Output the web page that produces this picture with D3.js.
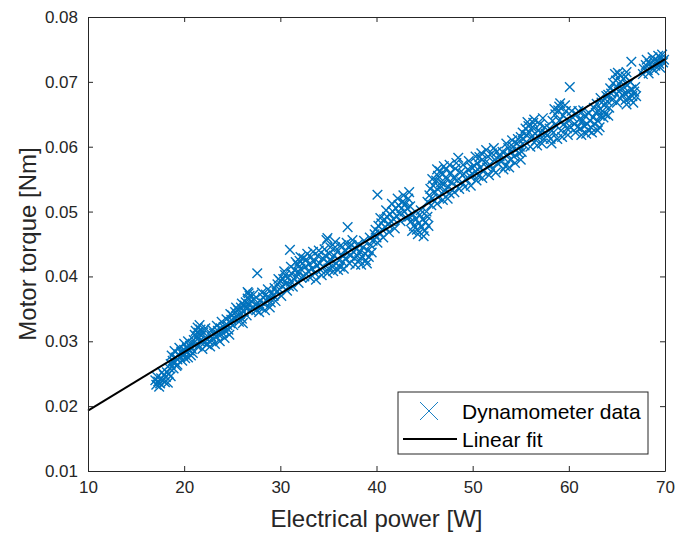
<!DOCTYPE html>
<html>
<head>
<meta charset="utf-8">
<script src="https://cdnjs.cloudflare.com/ajax/libs/d3/7.8.5/d3.min.js"></script>
<style>
  body { margin: 0; background: #fff; }
  svg { display: block; font-family: "Liberation Sans", Arial, sans-serif; }
  .tick-label { fill: #262626; font-size: 17px; }
  .axis-title { fill: #262626; font-size: 24px; }
  .legend-text { fill: #000; font-size: 21px; }
</style>
</head>
<body>
<div id="chart"></div>
<script>
// dynamometer samples
var power = [
  17.1, 17.3, 17.5, 17.6, 17.8, 17.9, 18.1, 18.2, 18.4, 18.5, 17.4, 18.0,
  18.6, 18.8, 19.0, 19.1, 19.3, 19.4, 19.6, 19.7, 19.9, 20.0, 20.2, 20.3, 20.5, 20.6, 20.8, 20.9, 19.2, 20.1, 20.7,
  21.0, 21.1, 21.2, 21.3, 21.4, 21.5, 21.6, 21.7, 21.8, 22.0, 22.1, 22.3, 21.4, 21.9,
  22.6, 22.8, 23.0, 23.1, 23.3, 23.5, 23.6, 23.8, 24.0, 24.1, 24.3, 24.5, 24.6, 24.8,
  24.9, 25.0, 25.2, 25.3, 25.5, 25.6, 25.8, 25.9, 26.0, 26.2, 26.3, 26.5,
  26.4, 26.6, 26.7, 26.8, 27.0, 27.1, 27.3, 27.4, 26.6, 27.6, 27.5,
  27.7, 27.9, 28.0, 28.2, 28.3, 28.5, 28.6, 28.8, 29.0, 29.1,
  29.3, 29.4, 29.6, 29.7, 29.9, 30.0, 30.2, 30.3, 30.5, 30.6, 30.8, 30.9, 31.0, 31.1, 31.2, 31.4, 31.5, 31.7, 31.8, 31.9, 32.0, 32.1, 32.2,
  32.3, 32.4, 32.6, 32.7, 32.9, 33.0, 33.2, 33.3, 33.5, 33.6, 33.8, 33.9, 34.1, 34.2, 34.4, 34.5, 34.7, 34.8, 34.9, 35.0, 35.1,
  34.9, 35.7, 37.0, 40.1,
  35.3, 35.4, 35.6, 35.8, 35.9, 36.1, 36.2, 36.4, 36.5, 36.7, 36.8, 37.0, 37.1, 37.3, 37.4, 37.6, 37.7, 37.9, 38.0, 38.2, 38.3, 38.5, 38.6, 38.8, 38.9, 39.1, 39.2, 39.4, 39.5,
  39.6, 39.8, 39.9, 40.0, 40.2, 40.3, 40.5, 40.6, 40.8, 40.9, 41.1, 41.2, 41.4, 41.5, 41.7, 41.8, 42.0, 42.1, 42.3, 42.4, 42.6, 42.7, 42.9, 43.0, 43.2, 43.3, 43.5,
  43.4, 43.6, 43.8, 43.9, 44.1, 44.2, 44.4, 44.5, 44.7, 44.8, 45.0, 45.1, 45.3, 45.4,
  45.3, 45.5, 45.6, 45.8, 45.9, 46.1, 46.2, 46.4, 46.5, 46.7, 46.8, 47.0, 47.1, 47.3, 47.5, 47.6, 47.8,
  46.4, 46.6, 46.9, 47.2, 47.7, 48.0, 48.2, 48.5, 48.4, 48.7, 48.9, 49.1, 49.3, 49.5, 49.7, 49.9, 50.7,
  50.0, 50.2, 50.3, 50.5, 50.6, 50.8, 51.0, 51.1, 51.3, 51.5, 51.6, 51.8, 52.0, 52.1, 52.3, 52.5, 52.6,
  52.8, 53.0, 53.1, 53.3, 53.4, 53.6, 53.7, 53.9, 54.0, 54.2, 54.3, 54.5, 54.6, 54.8, 54.9, 55.1,
  55.0, 55.2, 55.3, 55.5, 55.6, 55.8, 55.9, 56.1, 56.2, 56.3, 56.5, 56.6, 56.8, 56.9, 57.1, 57.3, 57.4, 57.6,
  57.8, 58.0, 58.1, 58.3, 58.4, 58.6, 58.7, 58.9, 59.0, 59.1, 59.2, 59.4, 59.5, 59.7, 59.8, 60.0, 60.1, 60.2,
  60.4, 60.6, 60.8, 60.9, 61.1, 61.2, 61.4, 61.6, 61.7, 61.9, 62.0, 62.2, 62.3, 62.5, 62.7, 62.8, 63.0, 63.2, 63.3,
  62.6, 62.9, 63.1, 63.4, 63.5, 63.7, 63.8, 64.0, 64.2,
  64.1, 64.3, 64.4, 64.6, 64.7, 64.9, 65.0, 65.1, 65.2, 65.4, 65.5, 65.7, 65.8, 66.0, 66.1, 66.5,
  65.3, 65.6, 65.9, 66.2, 66.3, 66.5, 66.6, 66.8,
  67.8, 68.0, 68.2, 68.4, 68.6, 68.8, 69.0, 69.2, 69.4, 69.6, 69.8, 69.9,
  // upper and lower edges of each cluster
  17.2, 17.7, 18.3, 18.6, 17.0,
  18.7, 19.0, 19.5, 20.0, 20.4, 19.3, 19.8, 20.4, 20.9, 18.9,
  21.2, 21.6, 22.2, 22.4, 21.9,
  22.7, 23.2, 23.7, 24.2, 24.7, 22.9, 23.4, 23.9, 24.4,
  25.1, 25.7, 26.1, 24.8, 25.4, 26.0,
  26.5, 26.9, 27.2, 26.7,
  27.8, 28.4, 28.9, 28.1, 28.7,
  29.5, 30.1, 30.7, 31.3, 31.9, 29.8, 30.4, 31.1, 31.6, 32.1,
  32.5, 33.1, 33.7, 34.3, 34.9, 32.8, 33.4, 34.0, 34.6, 35.2,
  35.5, 36.0, 36.6, 37.2, 37.8, 38.4, 39.0, 35.7, 36.3, 36.9, 37.5, 38.1, 38.7, 39.3,
  40.1, 40.7, 41.3, 41.9, 42.5, 43.1, 40.4, 41.0, 41.6, 42.2, 42.8, 43.4,
  43.7, 44.3, 44.9, 45.2, 44.6,
  45.7, 46.3, 46.9, 47.4, 48.1, 48.6, 49.2, 49.8, 45.8, 46.3, 47.0, 47.6, 48.3, 49.0, 49.6,
  50.4, 51.0, 51.7, 52.4, 50.3, 50.9, 51.4, 52.2,
  53.2, 53.8, 54.4, 55.0, 53.5, 54.1, 54.7,
  55.4, 56.0, 56.7, 57.2, 55.7, 56.4, 57.0, 57.5,
  58.2, 58.8, 59.3, 59.9, 58.5, 59.0, 59.6, 60.3,
  60.7, 61.3, 61.8, 62.4, 63.0, 61.0, 61.5, 62.1,
  63.6, 64.1, 63.3, 63.9,
  64.5, 65.0, 64.8, 65.3, 65.9, 66.4,
  66.0, 66.7, 67.0, 66.9,
  67.7, 68.3, 68.9, 69.5, 68.1, 68.7, 69.3, 69.7
];

var torque = [
  0.0233, 0.0238, 0.0235, 0.0243, 0.0240, 0.0248, 0.0245, 0.0252, 0.0250, 0.0258, 0.0230, 0.0237,
  0.0265, 0.0270, 0.0268, 0.0275, 0.0272, 0.0280, 0.0276, 0.0284, 0.0279, 0.0287, 0.0283, 0.0290, 0.0286, 0.0293, 0.0288, 0.0296, 0.0262, 0.0274, 0.0278,
  0.0302, 0.0310, 0.0316, 0.0307, 0.0321, 0.0313, 0.0300, 0.0318, 0.0309, 0.0314, 0.0298, 0.0305, 0.0292, 0.0288,
  0.0300, 0.0308, 0.0303, 0.0312, 0.0307, 0.0316, 0.0310, 0.0320, 0.0313, 0.0322, 0.0316, 0.0325, 0.0318, 0.0328,
  0.0333, 0.0340, 0.0336, 0.0345, 0.0338, 0.0348, 0.0342, 0.0352, 0.0335, 0.0346, 0.0355, 0.0340,
  0.0360, 0.0366, 0.0357, 0.0370, 0.0362, 0.0352, 0.0365, 0.0356, 0.0376, 0.0405, 0.0348,
  0.0355, 0.0362, 0.0352, 0.0368, 0.0358, 0.0372, 0.0362, 0.0368, 0.0360, 0.0375,
  0.0370, 0.0382, 0.0376, 0.0388, 0.0380, 0.0393, 0.0385, 0.0396, 0.0402, 0.0389, 0.0398, 0.0385, 0.0441, 0.0392, 0.0404, 0.0396, 0.0410, 0.0400, 0.0418, 0.0407, 0.0424, 0.0412, 0.0398,
  0.0420, 0.0428, 0.0415, 0.0426, 0.0408, 0.0419, 0.0430, 0.0412, 0.0423, 0.0405, 0.0417, 0.0432, 0.0420, 0.0410, 0.0428, 0.0415, 0.0432, 0.0456, 0.0422, 0.0412, 0.0435,
  0.0459, 0.0453, 0.0476, 0.0526,
  0.0425, 0.0415, 0.0432, 0.0420, 0.0438, 0.0425, 0.0415, 0.0433, 0.0422, 0.0440, 0.0428, 0.0436, 0.0445, 0.0432, 0.0448, 0.0438, 0.0428, 0.0442, 0.0432, 0.0425, 0.0438, 0.0430, 0.0445, 0.0435, 0.0425, 0.0440, 0.0430, 0.0448, 0.0437,
  0.0455, 0.0465, 0.0472, 0.0460, 0.0478, 0.0468, 0.0482, 0.0472, 0.0488, 0.0476, 0.0492, 0.0480, 0.0496, 0.0485, 0.0500, 0.0488, 0.0505, 0.0493, 0.0510, 0.0497, 0.0505, 0.0515, 0.0500, 0.0512, 0.0505, 0.0520, 0.0508,
  0.0492, 0.0485, 0.0495, 0.0478, 0.0488, 0.0472, 0.0482, 0.0495, 0.0476, 0.0488, 0.0470, 0.0484, 0.0492, 0.0478,
  0.0515, 0.0525, 0.0535, 0.0520, 0.0540, 0.0530, 0.0548, 0.0522, 0.0538, 0.0545, 0.0528, 0.0542, 0.0533, 0.0550, 0.0538, 0.0528, 0.0545,
  0.0555, 0.0562, 0.0558, 0.0565, 0.0560, 0.0552, 0.0566, 0.0583, 0.0548, 0.0560, 0.0545, 0.0558, 0.0550, 0.0565, 0.0555, 0.0568, 0.0584,
  0.0558, 0.0570, 0.0562, 0.0575, 0.0555, 0.0568, 0.0580, 0.0562, 0.0575, 0.0568, 0.0585, 0.0572, 0.0590, 0.0565, 0.0580, 0.0592, 0.0575,
  0.0585, 0.0578, 0.0592, 0.0582, 0.0570, 0.0588, 0.0598, 0.0580, 0.0592, 0.0600, 0.0585, 0.0595, 0.0605, 0.0590, 0.0600, 0.0592,
  0.0615, 0.0622, 0.0612, 0.0628, 0.0618, 0.0632, 0.0622, 0.0615, 0.0630, 0.0637, 0.0620, 0.0610, 0.0625, 0.0615, 0.0622, 0.0644, 0.0612, 0.0620,
  0.0618, 0.0628, 0.0612, 0.0640, 0.0622, 0.0650, 0.0632, 0.0656, 0.0640, 0.0667, 0.0625, 0.0648, 0.0635, 0.0655, 0.0628, 0.0640, 0.0692, 0.0630,
  0.0645, 0.0635, 0.0650, 0.0630, 0.0642, 0.0628, 0.0640, 0.0632, 0.0648, 0.0635, 0.0626, 0.0640, 0.0630, 0.0645, 0.0635, 0.0652, 0.0640, 0.0630, 0.0648,
  0.0660, 0.0666, 0.0656, 0.0668, 0.0655, 0.0664, 0.0650, 0.0670, 0.0660,
  0.0680, 0.0690, 0.0682, 0.0698, 0.0686, 0.0702, 0.0692, 0.0714, 0.0685, 0.0700, 0.0690, 0.0705, 0.0682, 0.0715, 0.0695, 0.0731,
  0.0675, 0.0680, 0.0672, 0.0685, 0.0675, 0.0688, 0.0678, 0.0685,
  0.0720, 0.0726, 0.0718, 0.0728, 0.0722, 0.0732, 0.0725, 0.0733, 0.0728, 0.0736, 0.0730, 0.0734,
  // upper and lower edges of each cluster
  0.0245, 0.0252, 0.0236, 0.0246, 0.0240,
  0.0278, 0.0285, 0.0290, 0.0296, 0.0300, 0.0264, 0.0270, 0.0275, 0.0282, 0.0258,
  0.0295, 0.0325, 0.0320, 0.0295, 0.0300,
  0.0292, 0.0296, 0.0300, 0.0305, 0.0310, 0.0318, 0.0324, 0.0330, 0.0334,
  0.0325, 0.0330, 0.0328, 0.0342, 0.0352, 0.0358,
  0.0350, 0.0348, 0.0372, 0.0374,
  0.0345, 0.0348, 0.0352, 0.0375, 0.0380,
  0.0362, 0.0370, 0.0378, 0.0384, 0.0390, 0.0396, 0.0408, 0.0415, 0.0422, 0.0430,
  0.0400, 0.0398, 0.0395, 0.0402, 0.0405, 0.0435, 0.0438, 0.0440, 0.0442, 0.0445,
  0.0408, 0.0410, 0.0412, 0.0420, 0.0418, 0.0418, 0.0420, 0.0445, 0.0448, 0.0452, 0.0456, 0.0450, 0.0455, 0.0460,
  0.0452, 0.0460, 0.0468, 0.0474, 0.0485, 0.0490, 0.0490, 0.0502, 0.0512, 0.0520, 0.0525, 0.0530,
  0.0470, 0.0465, 0.0462, 0.0500, 0.0502,
  0.0510, 0.0512, 0.0518, 0.0520, 0.0530, 0.0535, 0.0538, 0.0540, 0.0550, 0.0565, 0.0570, 0.0572, 0.0575, 0.0572, 0.0578,
  0.0548, 0.0552, 0.0556, 0.0560, 0.0585, 0.0590, 0.0595, 0.0598,
  0.0565, 0.0568, 0.0575, 0.0580, 0.0605, 0.0610, 0.0612,
  0.0602, 0.0600, 0.0602, 0.0605, 0.0638, 0.0642, 0.0635, 0.0630,
  0.0605, 0.0612, 0.0615, 0.0618, 0.0658, 0.0662, 0.0664, 0.0655,
  0.0622, 0.0618, 0.0620, 0.0622, 0.0625, 0.0655, 0.0656, 0.0652,
  0.0645, 0.0648, 0.0675, 0.0678,
  0.0672, 0.0668, 0.0712, 0.0710, 0.0708, 0.0700,
  0.0665, 0.0668, 0.0678, 0.0692,
  0.0712, 0.0713, 0.0718, 0.0722, 0.0734, 0.0738, 0.0740, 0.0742
];

// linear fit end points
var fitPower = [10, 70];
var fitTorque = [0.0193, 0.0735];

var xTicks = [10, 20, 30, 40, 50, 60, 70];
var yTicks = [0.01, 0.02, 0.03, 0.04, 0.05, 0.06, 0.07, 0.08];
var legendLabels = ['Dynamometer data', 'Linear fit'];

var width = 678,
  height = 535,
  margin = { left: 88, right: 13, top: 17, bottom: 64 },
  blue = '#0072BD',
  axisColor = '#262626',
  markerHalf = 4.8;

var x = d3.scaleLinear().domain([10, 70]).range([margin.left, width - margin.right]);
var y = d3.scaleLinear().domain([0.01, 0.08]).range([height - margin.bottom, margin.top]);

var points = power.map(function (p, i) { return { p: p, t: torque[i] }; });

var svg = d3.select('#chart').append('svg')
  .attr('width', width)
  .attr('height', height);

var plot = svg.append('g');

function cross(cx, cy, h) {
  return 'M' + (cx - h) + ',' + (cy - h) + 'L' + (cx + h) + ',' + (cy + h) +
    'M' + (cx - h) + ',' + (cy + h) + 'L' + (cx + h) + ',' + (cy - h);
}

// data markers
plot.append('g').selectAll('path')
    .data(points)
  .enter().append('path')
    .attr('d', function (d) { return cross(x(d.p), y(d.t), markerHalf); })
    .attr('stroke', blue)
    .attr('stroke-width', 1.4)
    .attr('fill', 'none');

// fit line
plot.append('path')
  .datum(fitPower.map(function (p, i) { return { p: p, t: fitTorque[i] }; }))
  .attr('d', d3.line().x(function (d) { return x(d.p); }).y(function (d) { return y(d.t); }))
  .attr('stroke', '#000')
  .attr('stroke-width', 2)
  .attr('fill', 'none');

// axes, ticks inward on all four sides
var xAxisB = d3.axisBottom(x).tickValues(xTicks).tickSizeInner(-5).tickSizeOuter(0).tickPadding(10)
  .tickFormat(d3.format('d'));
var xAxisT = d3.axisTop(x).tickValues(xTicks).tickSizeInner(-5).tickSizeOuter(0).tickFormat('');
var yAxisL = d3.axisLeft(y).tickValues(yTicks).tickSizeInner(-5).tickSizeOuter(0).tickPadding(10)
  .tickFormat(d3.format('.2f'));
var yAxisR = d3.axisRight(y).tickValues(yTicks).tickSizeInner(-5).tickSizeOuter(0).tickFormat('');

function styleAxis(g) {
  g.select('.domain').attr('stroke', axisColor).attr('stroke-width', 1);
  g.selectAll('.tick line').attr('stroke', axisColor).attr('stroke-width', 1);
  g.selectAll('.tick text').attr('class', 'tick-label').attr('fill', axisColor);
  g.attr('font-family', null).attr('font-size', null);
}

svg.append('g').attr('transform', 'translate(0,' + y(0.01) + ')').call(xAxisB).call(styleAxis);
svg.append('g').attr('transform', 'translate(0,' + y(0.08) + ')').call(xAxisT).call(styleAxis);
svg.append('g').attr('transform', 'translate(' + x(10) + ',0)').call(yAxisL).call(styleAxis);
svg.append('g').attr('transform', 'translate(' + x(70) + ',0)').call(yAxisR).call(styleAxis);

// axis titles
svg.append('text')
  .attr('class', 'axis-title')
  .attr('x', (x(10) + x(70)) / 2)
  .attr('y', 527)
  .attr('text-anchor', 'middle')
  .text('Electrical power [W]');

svg.append('text')
  .attr('class', 'axis-title')
  .attr('transform', 'translate(36,' + (y(0.01) + y(0.08)) / 2 + ') rotate(-90)')
  .attr('text-anchor', 'middle')
  .text('Motor torque [Nm]');

// legend
var legend = svg.append('g').attr('transform', 'translate(398,392)');

legend.append('rect')
  .attr('width', 250)
  .attr('height', 62)
  .attr('fill', '#fff')
  .attr('stroke', axisColor)
  .attr('stroke-width', 1);

legend.append('path')
  .attr('d', cross(31, 19, 9))
  .attr('stroke', blue)
  .attr('stroke-width', 0.9)
  .attr('fill', 'none');

legend.append('line')
  .attr('x1', 5).attr('x2', 59)
  .attr('y1', 47).attr('y2', 47)
  .attr('stroke', '#000')
  .attr('stroke-width', 2);

legend.selectAll('text.legend-text')
    .data(legendLabels)
  .enter().append('text')
    .attr('class', 'legend-text')
    .attr('x', 64)
    .attr('y', function (d, i) { return 19 + i * 28; })
    .attr('dy', '0.36em')
    .text(function (d) { return d; });
</script>
</body>
</html>
